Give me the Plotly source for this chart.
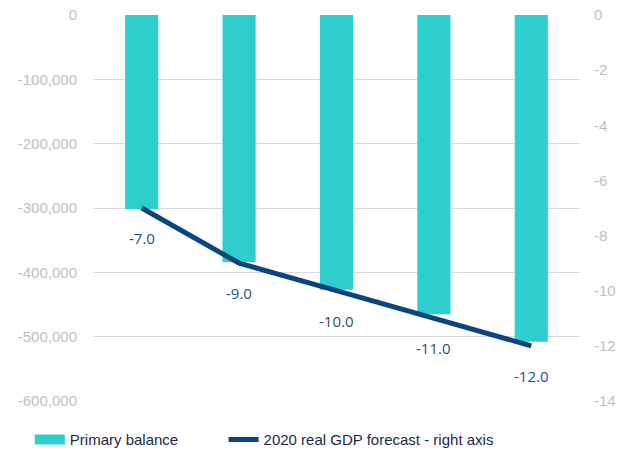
import plotly.graph_objects as go

categories = ["Y1", "Y2", "Y3", "Y4", "Y5"]
primary_balance = [-302000, -384000, -427000, -465000, -508000]
gdp_forecast = [-7.0, -9.0, -10.0, -11.0, -12.0]

left_ticks = [0, -100000, -200000, -300000, -400000, -500000, -600000]
left_ticktext = ["0", "-100,000", "-200,000", "-300,000", "-400,000", "-500,000", "-600,000"]
right_ticks = [0, -2, -4, -6, -8, -10, -12, -14]
right_ticktext = ["0", "-2", "-4", "-6", "-8", "-10", "-12", "-14"]

bar_color = "#2ECECE"
line_color = "#0A4580"
label_color = "#1F4E86"
tick_color = "#BFBFBF"
legend_font = dict(family="Liberation Sans, Arial", size=15, color="#1A2A45")

fig = go.Figure()
fig.add_trace(go.Bar(
    x=categories, y=primary_balance, name="Primary balance",
    marker=dict(color=bar_color, line=dict(width=0)), width=0.34,
    showlegend=False,
))
# legend proxy for the bar series (wide rectangle swatch)
fig.add_trace(go.Scatter(
    x=[None], y=[None], name="Primary balance", mode="lines",
    line=dict(color=bar_color, width=11), legend="legend",
))
fig.add_trace(go.Scatter(
    x=categories, y=gdp_forecast, name="2020 real GDP forecast - right axis",
    mode="lines", line=dict(color=line_color, width=5), yaxis="y2",
    legend="legend2",
))
for i, v in enumerate(gdp_forecast):
    fig.add_annotation(
        x=categories[i], y=v, xref="x", yref="y2",
        text=f"{v:.1f}".replace("\u2212", "-"), showarrow=False,
        yshift=-30, font=dict(family="Open Sans, Liberation Sans, Arial", size=15, color=label_color),
    )

fig.update_layout(
    width=621, height=458,
    margin=dict(l=93, r=41, t=15, b=57, autoexpand=False),
    paper_bgcolor="white", plot_bgcolor="white",
    font=dict(family="Liberation Sans, Arial", size=15, color=tick_color),
    showlegend=True,
    legend=dict(
        orientation="h", x=0.048, xanchor="left", xref="container",
        y=0.04, yanchor="middle", yref="container", font=legend_font,
    ),
    legend2=dict(
        orientation="h", x=0.36, xanchor="left", xref="container",
        y=0.04, yanchor="middle", yref="container", font=legend_font,
    ),
    xaxis=dict(type="category", showticklabels=False, showgrid=False, zeroline=False,
               showline=False, ticks="", automargin=False),
    yaxis=dict(range=[-600000, 0], tickvals=left_ticks, ticktext=left_ticktext,
               showgrid=True, gridcolor="#D9D9D9", gridwidth=1, zeroline=False,
               ticks="", tickfont=dict(color=tick_color, size=15),
               ticklabelstandoff=15, automargin=False),
    yaxis2=dict(range=[-14, 0], tickvals=right_ticks, ticktext=right_ticktext,
                overlaying="y", side="right",
                showgrid=False, zeroline=False, ticks="",
                tickfont=dict(color=tick_color, size=15), ticklabelstandoff=13,
                automargin=False),
)

fig.write_html("out.html")
